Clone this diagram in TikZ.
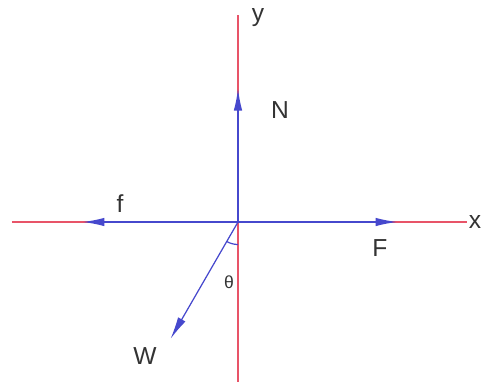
\documentclass[tikz,border=0pt]{standalone}
\usepackage{fontspec}
\setmainfont{Liberation Sans}
\usetikzlibrary{arrows.meta,positioning}

\begin{document}
\begin{tikzpicture}[
  axis/.style={draw=axisred, line width=1.1pt},
  force/.style={draw=forceblue, line width=1.1pt, -{Latex[length=0.45cm, width=0.17cm]}},
  lbl/.style={font=\fontsize{14}{16}\selectfont, text=black!80, inner sep=1pt},
]
  \definecolor{axisred}{RGB}{232,84,104}
  \definecolor{forceblue}{RGB}{70,72,205}
  \useasboundingbox (-4.76,-3.26) rectangle (4.88,4.44);

  % Axes
  \coordinate (O) at (0,0);
  \coordinate (xl) at (-4.52,0);
  \coordinate (xr) at (4.58,0);
  \coordinate (yt) at (0,4.14);
  \coordinate (yb) at (0,-3.2);
  \draw[axis] (xl) -- (xr);
  \draw[axis] (yt) -- (yb);
  \node[lbl, inner sep=0pt, right=0.03cm of xr] (xlab) {x};
  \node[lbl] (ylab) at (0.4,4.08) {y};

  % Forces
  \coordinate (Ntip) at (0,2.68);
  \coordinate (ftip) at (-3.12,0);
  \coordinate (Ftip) at (3.2,0);
  \coordinate (Wtip) at (240:2.7);
  \draw[force] (O) -- (Ntip);
  \draw[force] (O) -- (ftip);
  \draw[force] (O) -- (Ftip);
  \draw[force, line width=0.7pt] (O) -- (Wtip);
  \node[lbl] (Nlab) at (0.84,2.24) {N};
  \node[lbl] (flab) at (-2.36,0.36) {f};
  \node[lbl] (Flab) at (2.84,-0.52) {F};
  \node[lbl] (Wlab) at (-1.86,-2.68) {W};

  % Angle
  \draw[forceblue, line width=0.7pt] (240:0.45) arc[start angle=240, end angle=270, radius=0.45];
  \node[lbl, font=\normalsize] (theta) at (-0.18,-1.2) {θ};
\end{tikzpicture}
\end{document}
